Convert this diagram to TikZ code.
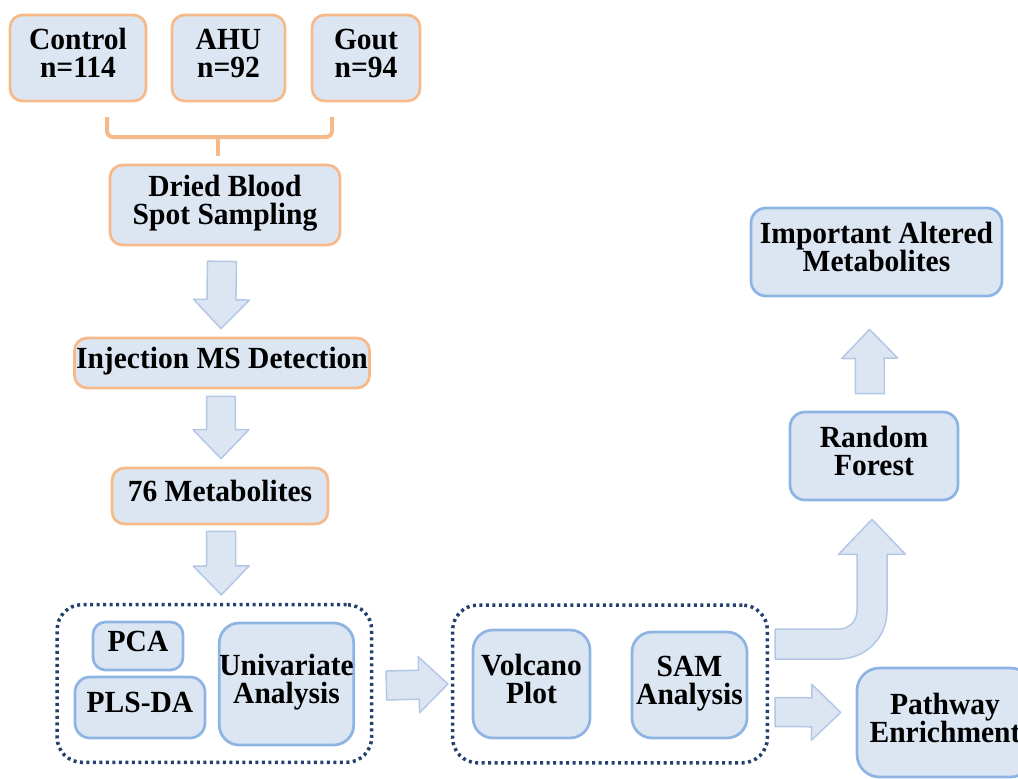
\documentclass[tikz,border=0pt]{standalone}
\usepackage{fontspec}
\setmainfont{Liberation Serif}[FakeStretch=0.96]
\usepackage{tikz}
\usetikzlibrary{calc, fit}
\definecolor{cfill}{HTML}{DCE6F2}
\definecolor{corange}{HTML}{F6B98A}
\definecolor{cblue}{HTML}{8EB4E3}
\definecolor{cnavy}{HTML}{24406E}
\definecolor{cline}{HTML}{B4C7E7}

% hollow block arrow from #1 to #2 (tip)
\newcommand{\blockarrow}[2]{%
  \draw[barrow] let \p1=(#1), \p2=(#2), \n1={atan2(\y2-\y1,\x2-\x1)},
      \n2={veclen(\x2-\x1,\y2-\y1)-0.58cm} in
    ($(\p1)+(\n1+90:0.29cm)$) -- ($(\p1)+(\n1:\n2)+(\n1+90:0.29cm)$)
    -- ($(\p1)+(\n1:\n2)+(\n1+90:0.56cm)$) -- (\p2)
    -- ($(\p1)+(\n1:\n2)+(\n1-90:0.56cm)$) -- ($(\p1)+(\n1:\n2)+(\n1-90:0.29cm)$)
    -- ($(\p1)+(\n1-90:0.29cm)$) -- cycle;}

\begin{document}
\begin{tikzpicture}[x=0.02cm, y=-0.02cm,
    box/.style={draw=cblue, line width=0.055cm, fill=cfill, rounded corners=0.3cm,
                align=center, inner sep=0pt, text depth=0.2cm,
                font=\fontsize{17.5}{16}\selectfont\bfseries},
    obox/.style={box, draw=corange, rounded corners=0.25cm},
    grp/.style={draw=cnavy, line width=0.07cm, dash pattern=on 0.06cm off 0.07cm,
                rounded corners=0.5cm},
    barrow/.style={draw=cline, fill=cfill, line width=0.03cm, line join=round},
    brace/.style={draw=corange, line width=0.08cm, rounded corners=0.12cm}]
  \clip (0,0) rectangle (1018,778);

  % groups
  \node[obox, minimum width=2.72cm, minimum height=1.72cm] (ctrl) at (78,58) {Control\\n=114};
  \node[obox, minimum width=2.26cm, minimum height=1.72cm] (ahu) at (228.5,58) {AHU\\n=92};
  \node[obox, minimum width=2.16cm, minimum height=1.72cm] (gout) at (366,58) {Gout\\n=94};

  % left column
  \node[obox, minimum width=4.6cm, minimum height=1.6cm] (dbs) at (225,205) {Dried Blood\\Spot Sampling};
  \node[obox, minimum width=5.9cm, minimum height=1.0cm] (ims) at (222,363) {Injection MS Detection};
  \node[obox, minimum width=4.32cm, minimum height=1.12cm] (met) at (220,496) {76 Metabolites};

  % statistics
  \node[box, rounded corners=0.25cm, minimum width=1.8cm, minimum height=0.96cm] (pca) at (138,646) {PCA};
  \node[box, minimum width=2.6cm, minimum height=1.22cm] (plsda) at (140,707.5) {PLS-DA};
  \node[box, rounded corners=0.4cm, minimum width=2.66cm, minimum height=2.44cm] (univ) at (286.5,684) {Univariate\\Analysis};
  \node[grp, fit=(pca)(plsda)(univ), inner xsep=0.33cm, inner ysep=0.32cm] (grp1) {};

  \node[box, rounded corners=0.4cm, minimum width=2.34cm, minimum height=2.16cm] (volc) at (531.5,684) {Volcano\\Plot};
  \node[box, rounded corners=0.4cm, minimum width=2.3cm, minimum height=2.12cm] (sam) at (689.5,685) {SAM\\Analysis};
  \node[grp, fit=(volc)(sam), inner xsep=0.38cm, inner ysep=0.47cm] (grp2) {};

  % right column
  \node[box, minimum width=3.36cm, minimum height=1.76cm] (rf) at (874,456) {Random\\Forest};
  \node[box, minimum width=5.02cm, minimum height=1.76cm] (imp) at (876.5,252) {Important Altered\\Metabolites};
  \node[box, rounded corners=0.45cm, minimum width=3.52cm, minimum height=2.18cm] (pwe) at (945,722.5) {Pathway\\Enrichment};

  % bracket
  \coordinate (brL) at (107,117);
  \coordinate (brR) at (332,117);
  \coordinate (brM) at (218,137);
  \draw[brace] (brL) |- (brM) -| (brR);
  \draw[brace] (brM) -- ($(brM |- dbs.north)+(0,-8)$);

  % arrows
  \blockarrow{$(dbs.south)+(-3,15)$}{$(ims.north)+(-1,-8)$}
  \blockarrow{$(ims.south)+(-1,7)$}{$(met.north)+(1,-8)$}
  \blockarrow{$(met.south)+(1,6)$}{$(grp1.north)+(7,-8)$}
  \blockarrow{$(grp1.east)+(13,2)$}{$(grp2.west)+(-3,0)$}
  \blockarrow{$(grp2.east)+(6,28)$}{$(pwe.west)+(-15,-10)$}
  \blockarrow{$(rf.north)+(-4,-17)$}{$(imp.south)+(-7,32)$}

  % bent arrow
  \draw[barrow] let \p1=($(grp2.east)+(6,-40)$), \p2=($(rf.south)+(-2,18)$) in
    (\x1,\y1+0.3cm) -- (\x2-0.66cm,\y1+0.3cm) to[out=0,in=-90] (\x2-0.3cm,\y1+0.66cm)
    -- (\x2-0.3cm,\y2-0.7cm) -- (\x2-0.67cm,\y2-0.7cm) -- (\p2)
    -- (\x2+0.67cm,\y2-0.7cm) -- (\x2+0.3cm,\y2-0.7cm) -- (\x2+0.3cm,\y1+0.66cm)
    to[out=-90,in=0] (\x2-0.66cm,\y1-0.3cm) -- (\x1,\y1-0.3cm) -- cycle;
\end{tikzpicture}
\end{document}
